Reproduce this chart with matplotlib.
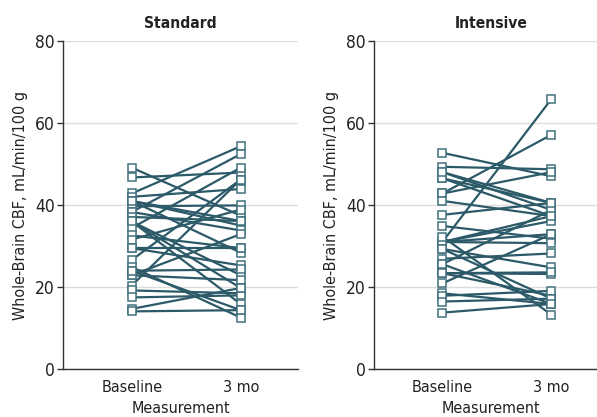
import matplotlib
matplotlib.use("Agg")
import matplotlib.pyplot as plt

time_labels = ["Baseline", "3 mo"]

std_baseline = [49.1, 46.7, 42.8, 42.0, 41.0, 41.0, 39.7, 38.3, 38.3, 37.1,
                36.0, 36.0, 34.4, 32.6, 31.6, 29.5, 29.5, 26.6, 24.9, 24.0,
                22.9, 22.9, 20.4, 19.2, 17.5, 14.7, 14.1, 36.0, 41.0, 24.0]
std_3mo = [37.4, 47.9, 54.3, 43.9, 35.0, 28.4, 39.9, 52.4, 33.8, 36.1,
           22.9, 15.9, 49.1, 29.5, 38.9, 29.5, 25.3, 46.2, 12.6, 24.3,
           21.7, 32.9, 46.2, 18.5, 18.0, 19.8, 14.4, 19.8, 36.1, 14.4]

int_baseline = [52.7, 49.3, 48.0, 46.5, 42.8, 42.8, 41.0, 37.6, 34.9, 31.0,
                31.0, 31.0, 31.0, 31.0, 29.3, 29.3, 26.9, 25.6, 25.6, 23.4,
                23.4, 23.4, 20.9, 18.5, 17.9, 16.5, 13.8, 46.5, 48.0, 32.3]
int_3mo = [47.0, 48.7, 38.8, 40.5, 57.1, 48.0, 37.3, 40.5, 31.8, 65.8,
           37.3, 36.1, 30.7, 32.9, 17.2, 24.8, 28.2, 38.8, 15.9, 23.2,
           23.6, 17.9, 32.9, 15.9, 19.1, 17.2, 15.9, 37.3, 40.5, 13.3]

panels = [("Standard", std_baseline, std_3mo),
          ("Intensive", int_baseline, int_3mo)]

plt.rcParams["font.family"] = ["DejaVu Sans"]
plt.rcParams["font.stretch"] = "condensed"

line_c = "#2c5a68"
edge_c = "#43727f"
grid_c = "#dcdcdc"
txt_c = "#222222"

W, H = 597, 417
fig = plt.figure(figsize=(W / 100, H / 100), dpi=100)

lefts = [63.3, 374.0]
ax_w = 234.7
ax_bottom = 369.3
ax_top = 40.7

for (title, base, post), lx in zip(panels, lefts):
    ax = fig.add_axes([lx / W, 1 - ax_bottom / H, ax_w / W, (ax_bottom - ax_top) / H])
    for b, p in zip(base, post):
        ax.plot([0, 1], [b, p], color=line_c, lw=1.6, zorder=3,
                marker="s", markersize=5.6, markerfacecolor="white",
                markeredgecolor=edge_c, markeredgewidth=1.1)
    ax.set_xlim(-0.6275, 1.5257)
    ax.set_ylim(0, 80)
    ax.set_yticks([0, 20, 40, 60, 80])
    ax.set_xticks([0, 1])
    ax.set_xticklabels(time_labels)
    ax.yaxis.grid(True, color=grid_c, lw=1.0, zorder=0)
    ax.set_axisbelow(True)
    for s in ["top", "right"]:
        ax.spines[s].set_visible(False)
    for s in ["left", "bottom"]:
        ax.spines[s].set_color("#333333")
        ax.spines[s].set_linewidth(1.0)
    ax.tick_params(axis="y", length=4, width=1, color="#333333", labelsize=12.5,
                   labelcolor=txt_c, pad=2)
    ax.tick_params(axis="x", length=0, labelsize=11.5, labelcolor=txt_c, pad=8)
    ax.set_title(title, fontsize=11.2, fontweight="bold", pad=9, color=txt_c)
    ax.set_ylabel("Whole-Brain CBF, mL/min/100 g", fontsize=11.5, color=txt_c, labelpad=5)
    ax.set_xlabel("Measurement", fontsize=11.5, color=txt_c, labelpad=4)

fig.savefig("out.png", dpi=100)
